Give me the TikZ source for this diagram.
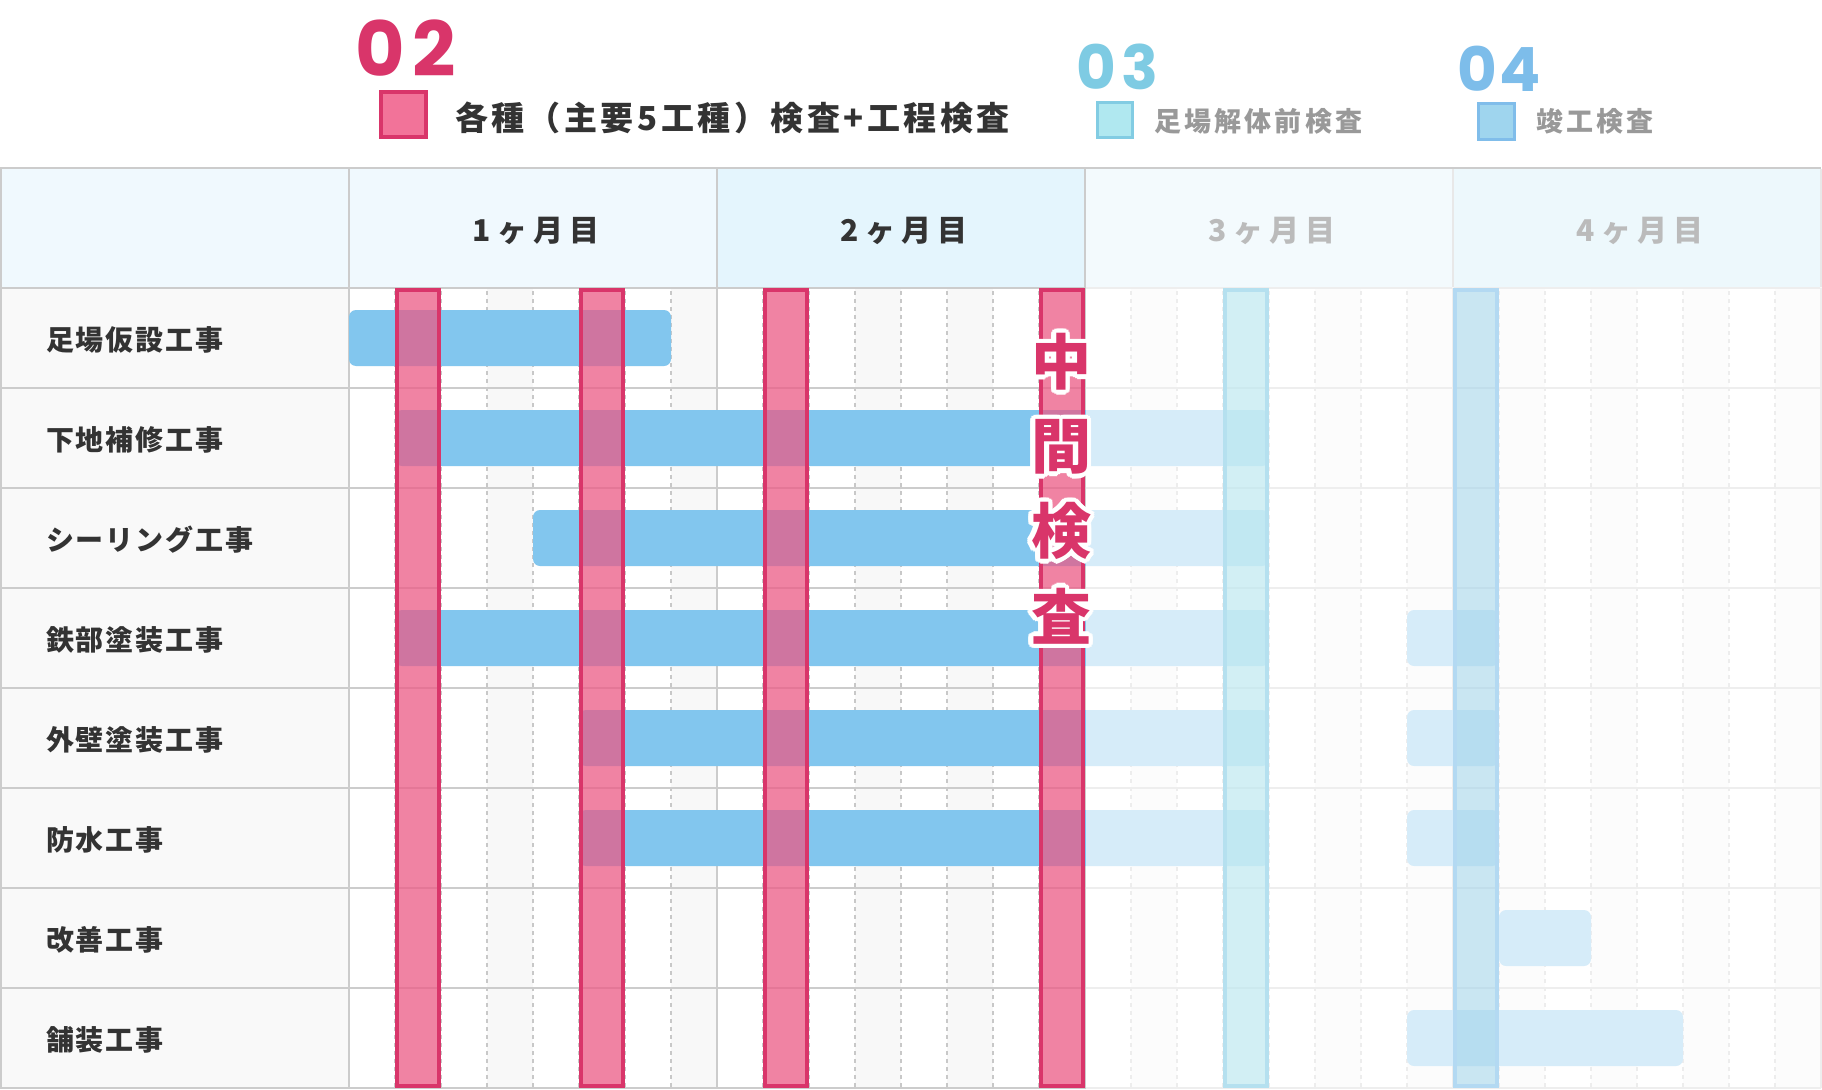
\documentclass[tikz,border=0pt]{standalone}
\usepackage{fontspec}
\newfontfamily\jp{Noto Sans CJK JP}
\newfontfamily\pop{Poppins}
\usetikzlibrary{calc}
\definecolor{gridc}{HTML}{CCCCCC}
\definecolor{gridl}{HTML}{E8E8E8}
\definecolor{dashc}{HTML}{C8C8C8}
\definecolor{altc}{HTML}{F8F8F8}
\definecolor{labbg}{HTML}{F9F9F9}
\definecolor{hdrA}{HTML}{F0F9FE}
\definecolor{hdrB}{HTML}{E4F5FD}
\definecolor{hdrC}{HTML}{F3FAFD}
\definecolor{hdrD}{HTML}{EDF8FC}
\definecolor{barblue}{HTML}{82C6EE}
\definecolor{pinkfill}{HTML}{EE5783}
\definecolor{pinkline}{HTML}{D9356A}
\definecolor{legpink}{HTML}{F27399}
\definecolor{txt}{HTML}{333333}
\definecolor{txtgray}{HTML}{999999}
\definecolor{hdrgray}{HTML}{BBBBBB}
\definecolor{cyanfill}{HTML}{B1E5EE}
\definecolor{cyanline}{HTML}{B5E0EF}
\definecolor{bluefill}{HTML}{9DD2E9}
\definecolor{blueline}{HTML}{B3D9F2}
\definecolor{num03}{HTML}{7ECBE3}
\definecolor{num04}{HTML}{7DBDEA}
\definecolor{leg03f}{HTML}{B0E8F0}
\definecolor{leg03l}{HTML}{82CCE3}
\definecolor{leg04f}{HTML}{9FD5EE}
\definecolor{leg04l}{HTML}{80BDEA}
\tikzset{
  every node/.style={inner sep=0pt, outer sep=0pt},
  grid/.style={draw=gridc, line width=2pt},
  subline/.style={draw=dashc, line width=1.5pt, dash pattern=on 4pt off 4pt},
  bar/.style={fill=barblue, rounded corners=7pt},
  insp/.style={fill=pinkfill, fill opacity=0.72, draw=pinkline, line width=4pt},
  lab/.style={anchor=west, text=txt, font=\jp\bfseries\fontsize{28}{28}\selectfont\addfontfeatures{LetterSpace=7}},
  hdr/.style={font=\jp\bfseries\fontsize{30}{30}\selectfont\addfontfeatures{LetterSpace=20}},
  bignum/.style 2 args={anchor=base west, font=\pop\bfseries\fontsize{#1}{#1}\selectfont\addfontfeatures{LetterSpace=#2}},
  legtxt/.style 2 args={anchor=west, font=\jp\bfseries\fontsize{#1}{#1}\selectfont\addfontfeatures{LetterSpace=#2}},
  midch/.style={font=\jp\bfseries\fontsize{60}{60}\selectfont},
}
\newcommand\outlch[3]{%
  \foreach \a [count=\i] in {0,22.5,...,337.5}{\node[midch, text=white] (#1w\i) at ($(#2)+(\a:4.5)$) {#3};}
  \node[midch, text=pinkline] (#1) at (#2) {#3};}
\begin{document}
\begin{tikzpicture}[x=1pt,y=-1pt]
\useasboundingbox (0,0) rectangle (1822,1089);
\fill[white] (0,0) rectangle (1822,1089);
% header backgrounds
\fill[hdrA] (0,168) rectangle (717,288);
\fill[hdrB] (717,168) rectangle (1085,288);
\fill[hdrC] (1085,168) rectangle (1453,288);
\fill[hdrD] (1453,168) rectangle (1821,288);
% body backgrounds
\fill[labbg] (0,288) rectangle (349,1088);
\foreach \s in {1,3,...,31}{\fill[altc] ({349+46*\s},288) rectangle ({349+46*(\s+1)},1088);}
\foreach \s in {1,...,7,9,10,...,15,17,18,...,23,25,26,...,31}{\draw[subline] ({349+46*\s},291) -- ({349+46*\s},1088);}
% grid
\foreach \r in {1,...,7}{\draw[grid] (0,{288+100*\r}) -- (1821,{288+100*\r});}
\draw[grid] (0,288) -- (1821,288);
\draw[grid] (0,1088) -- (1821,1088);
\draw[grid] (0,168) -- (1821,168);
\draw[grid] (1,168) -- (1,1088);
\foreach \x in {349,717,1085}{\draw[grid] (\x,168) -- (\x,1088);}
\draw[grid] (1453,288) -- (1453,1088);
\draw[grid] (1821,288) -- (1821,1088);
\draw[draw=gridl, line width=2pt] (1453,169) -- (1453,288);
\draw[draw=gridl, line width=2pt] (1821,169) -- (1821,288);
% work bars
\foreach \r/\a/\b in {0/0/7, 1/1/20, 2/4/20, 3/1/20, 3/23/25, 4/5/20, 4/23/25, 5/5/20, 5/23/25, 6/25/27, 7/23/29}{
  \fill[bar] ({349+46*\a},{288+100*\r+22}) rectangle ({349+46*\b},{288+100*\r+78});}
% inspection bars 02
\foreach \s in {1,5,9,15}{\filldraw[insp] ({349+46*\s+2},290) rectangle ({349+46*(\s+1)-2},1086);}
% fade months 3-4
\fill[white, opacity=0.68] (1086,287) rectangle (1822,1089);
% inspection bars 03, 04
\filldraw[fill=cyanfill, fill opacity=0.55, draw=cyanline, line width=4pt] (1225,290) rectangle (1267,1086);
\filldraw[fill=bluefill, fill opacity=0.55, draw=blueline, line width=4pt] (1455,290) rectangle (1497,1086);
% header texts
\node[hdr, text=txt] (m1) at (536,231) {1ヶ月目};
\node[hdr, text=txt] (m2) at (904,231) {2ヶ月目};
\node[hdr, text=hdrgray] (m3) at (1272,231) {3ヶ月目};
\node[hdr, text=hdrgray] (m4) at (1640,231) {4ヶ月目};
% row labels
\node[lab] (r1) at (46,340) {足場仮設工事};
\node[lab] (r2) at (46,440) {下地補修工事};
\node[lab] (r3) at (46,540) {シーリング工事};
\node[lab] (r4) at (46,640) {鉄部塗装工事};
\node[lab] (r5) at (46,740) {外壁塗装工事};
\node[lab] (r6) at (46,840) {防水工事};
\node[lab] (r7) at (46,940) {改善工事};
\node[lab] (r8) at (46,1040) {舗装工事};
% 中間検査
\coordinate (c1) at (1061,362);
\coordinate (c2) at (1061,447);
\coordinate (c3) at (1061,531);
\coordinate (c4) at (1061,616);
\outlch{k1}{c1}{中}
\outlch{k2}{c2}{間}
\outlch{k3}{c3}{検}
\outlch{k4}{c4}{査}
% legend
\node[bignum={76}{10}, text=pinkline] (n02) at (355,76.5) {02};
\filldraw[fill=legpink, draw=pinkline, line width=4pt] (381,92) rectangle (426,137);
\node[legtxt={33}{10.6}, text=txt] (t02) at (455,118) {各種（主要5工種）検査+工程検査};
\node[bignum={61}{10}, text=num03] (n03) at (1076,90) {03};
\filldraw[fill=leg03f, draw=leg03l, line width=3pt] (1097.5,102.5) rectangle (1132.5,137.5);
\node[legtxt={27}{12}, text=txtgray] (t03) at (1154,121) {足場解体前検査};
\node[bignum={61}{4}, text=num04] (n04) at (1457,91.5) {04};
\filldraw[fill=leg04f, draw=leg04l, line width=3pt] (1478.5,103.5) rectangle (1514.5,139.5);
\node[legtxt={27}{12}, text=txtgray] (t04) at (1536,121) {竣工検査};
\end{tikzpicture}
\end{document}
